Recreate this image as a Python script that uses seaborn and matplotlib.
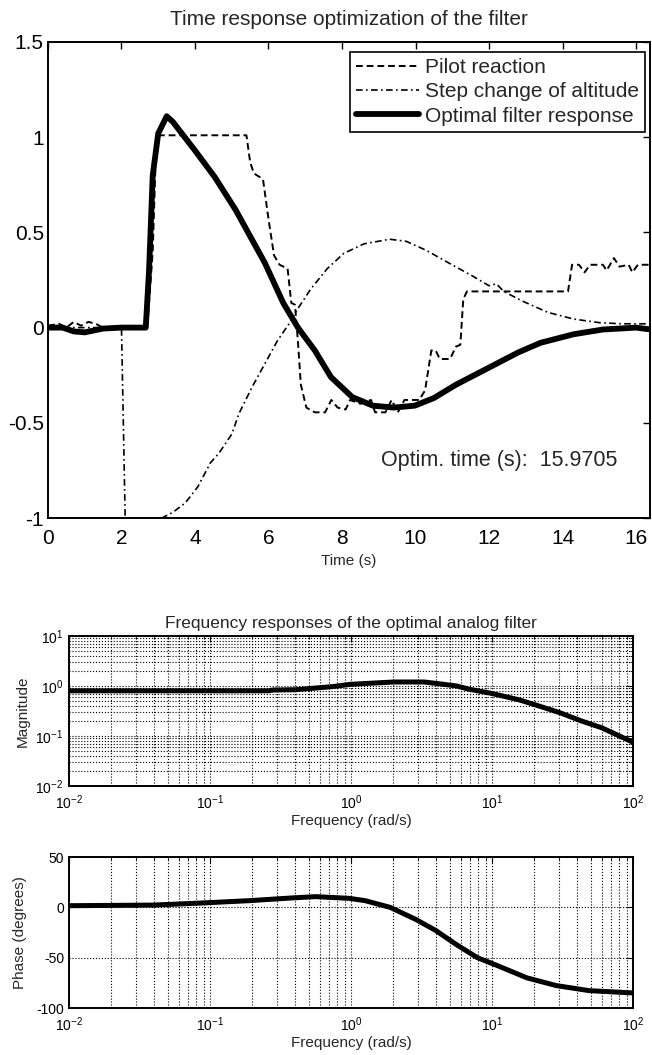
import matplotlib
matplotlib.use('Agg')
import numpy as np
import pandas as pd
import seaborn as sns
import matplotlib.pyplot as plt
from matplotlib.ticker import LogLocator, NullFormatter

sns.set_style('white')
plt.rcParams['font.family'] = ['Liberation Sans', 'DejaVu Sans']
plt.rcParams['mathtext.default'] = 'regular'
plt.rcParams['axes.unicode_minus'] = False

# ---- time response data ----
pilot_t = [0, 0.3, 0.5, 0.7, 0.9, 1.1, 1.3, 1.5, 2.0, 2.7, 2.85, 2.95, 5.4, 5.5, 5.6,
           5.85, 6.0, 6.15, 6.3, 6.52, 6.62, 6.72, 6.8, 6.88, 7.03, 7.26, 7.54, 7.71,
           7.88, 8.1, 8.22, 8.5, 8.79, 8.9, 9.18, 9.35, 9.52, 9.7, 10.1, 10.26, 10.43,
           10.55, 10.66, 10.94, 11.1, 11.22, 11.3, 11.4, 14.15, 14.26, 14.45, 14.6,
           14.75, 15.1, 15.2, 15.4, 15.55, 15.8, 15.9, 16.05, 16.4]
pilot_y = [0.01, 0.02, 0.0, 0.03, 0.01, 0.03, 0.02, 0.0, 0.0, 0.0, 0.4, 1.01, 1.01, 0.87, 0.81,
           0.78, 0.57, 0.38, 0.33, 0.31, 0.13, 0.12, -0.07, -0.3, -0.42, -0.445, -0.445, -0.38,
           -0.42, -0.43, -0.38, -0.40, -0.38, -0.445, -0.445, -0.38, -0.445, -0.38, -0.38, -0.33, -0.12,
           -0.12, -0.165, -0.165, -0.1, -0.09, 0.15, 0.19, 0.19, 0.33, 0.33, 0.29,
           0.33, 0.33, 0.30, 0.365, 0.32, 0.33, 0.29, 0.33, 0.33]

step_t = [0, 2.0, 2.05, 2.1, 3.1, 3.4, 3.74, 4.08, 4.42, 4.65, 5.0, 5.2, 5.56, 5.9, 6.24,
          6.58, 6.8, 7.14, 7.6, 8.05, 8.6, 9.3, 9.75, 10.3, 10.9, 11.56, 12.0, 12.2, 12.4,
          12.9, 13.6, 14.3, 15.0, 15.6, 16.4]
step_y = [0.0, 0.0, -0.5, -1.0, -1.0, -0.97, -0.92, -0.835, -0.71, -0.66, -0.56, -0.45, -0.31, -0.19, -0.07,
          0.026, 0.1, 0.2, 0.31, 0.39, 0.44, 0.464, 0.453, 0.405, 0.34, 0.27, 0.22, 0.23, 0.19,
          0.14, 0.08, 0.045, 0.026, 0.02, 0.02]

filt_t = [0, 0.4, 0.7, 1.0, 1.25, 1.5, 2.0, 2.66, 2.75, 2.85, 3.0, 3.23, 3.4, 4.0, 4.54,
          5.1, 5.9, 6.4, 6.8, 7.26, 7.7, 8.28, 8.84, 9.41, 9.98, 10.5, 11.1, 12.0, 12.8,
          13.4, 14.3, 15.1, 16.0, 16.4]
filt_y = [0.0, 0.0, -0.02, -0.025, -0.015, -0.005, 0.0, 0.0, 0.3, 0.8, 1.02, 1.11, 1.08, 0.93, 0.79,
          0.62, 0.34, 0.13, 0.0, -0.12, -0.26, -0.365, -0.41, -0.42, -0.41, -0.37, -0.30, -0.21, -0.13,
          -0.08, -0.035, -0.01, 0.0, -0.01]

# ---- frequency response data ----
mag_w = [0.01, 0.1, 0.26, 0.28, 0.4, 0.74, 1.0, 2.0, 3.3, 4.3, 5.6, 6.9, 9.7, 15.5, 22,
         30.5, 43, 60, 100]
mag = [0.8, 0.8, 0.8, 0.83, 0.84, 0.97, 1.08, 1.2, 1.2, 1.1, 1.0, 0.86, 0.72, 0.53, 0.39,
       0.29, 0.20, 0.146, 0.075]

ph_w = [0.01, 0.04, 0.085, 0.19, 0.37, 0.56, 0.97, 1.26, 1.9, 2.86, 4.0, 5.6, 7.9, 11,
        17.7, 28.6, 49, 100]
phase = [1.7, 2.3, 4.3, 6.7, 9.3, 10.7, 9.0, 6.7, 0.0, -11.7, -23, -37, -50, -58,
         -70, -77.7, -82.7, -85]

time_ticks = [0, 2, 4, 6, 8, 10, 12, 14, 16]
value_ticks = [-1, -0.5, 0, 0.5, 1, 1.5]
value_labels = ['-1', '-0.5', '0', '0.5', '1', '1.5']
phase_ticks = [-100, -50, 0, 50]

df_pilot = pd.DataFrame({'t': pilot_t, 'y': pilot_y})
df_step = pd.DataFrame({'t': step_t, 'y': step_y})
df_filt = pd.DataFrame({'t': filt_t, 'y': filt_y})
df_mag = pd.DataFrame({'w': mag_w, 'm': mag})
df_ph = pd.DataFrame({'w': ph_w, 'p': phase})

fig = plt.figure(figsize=(6.52, 10.55), dpi=100)

# ---------------- top: time response ----------------
ax = fig.add_axes([0.0736, 0.5090, 0.9233, 0.4512])
sns.lineplot(data=df_pilot, x='t', y='y', ax=ax, color='k', linewidth=1.4,
             estimator=None, sort=False, label='Pilot reaction')
ax.lines[-1].set_dashes((3.5, 2))
sns.lineplot(data=df_step, x='t', y='y', ax=ax, color='k', linewidth=1.2,
             estimator=None, sort=False, label='Step change of altitude')
ax.lines[-1].set_dashes((4, 2, 1, 2))
sns.lineplot(data=df_filt, x='t', y='y', ax=ax, color='k', linewidth=4.2,
             estimator=None, sort=False, label='Optimal filter response')

ax.set_xlim(0, 16.38)
ax.set_ylim(-1, 1.5)
ax.set_xticks(time_ticks)
ax.set_yticks(value_ticks)
ax.set_yticklabels(value_labels)
ax.tick_params(direction='in', top=True, right=True, length=5, width=1,
               labelsize=15, colors='k')
ax.tick_params(axis='x', pad=8)
ax.tick_params(axis='y', pad=3)
for s in ax.spines.values():
    s.set_color('k')
    s.set_linewidth(1.4)
ax.set_xlabel('Time (s)', fontsize=11, labelpad=4)
ax.set_ylabel('')
ax.set_title('Time response optimization of the filter', fontsize=15, pad=12)
ax.text(9.05, -0.70, 'Optim. time (s):  15.9705', fontsize=15.5, va='center', ha='left')
leg = ax.legend(loc='upper right', bbox_to_anchor=(0.992, 0.979), borderaxespad=0,
                fontsize=15, handlelength=3.0, handletextpad=0.3, labelspacing=0.25,
                borderpad=0.3, fancybox=False, framealpha=1)
leg.get_frame().set_edgecolor('k')
leg.get_frame().set_linewidth(1.2)

# ---------------- magnitude ----------------
axm = fig.add_axes([0.1058, 0.2550, 0.8650, 0.1422])
sns.lineplot(data=df_mag, x='w', y='m', ax=axm, color='k', linewidth=3.6,
             estimator=None, sort=False)
axm.set_xscale('log')
axm.set_yscale('log')
axm.set_xlim(0.01, 100)
axm.set_ylim(0.01, 10)

# ---------------- phase ----------------
axp = fig.add_axes([0.1058, 0.0445, 0.8650, 0.1431])
sns.lineplot(data=df_ph, x='w', y='p', ax=axp, color='k', linewidth=3.6,
             estimator=None, sort=False)
axp.set_xscale('log')
axp.set_xlim(0.01, 100)
axp.set_ylim(-100, 50)
axp.set_yticks(phase_ticks)

for a in (axm, axp):
    a.xaxis.set_major_locator(LogLocator(base=10, numticks=10))
    a.xaxis.set_minor_locator(LogLocator(base=10, subs=np.arange(2, 10), numticks=20))
    a.xaxis.set_minor_formatter(NullFormatter())
    a.tick_params(which='both', direction='in', top=True, right=True, colors='k',
                  labelsize=10)
    a.tick_params(which='major', length=4)
    a.tick_params(which='minor', length=2)
    a.tick_params(axis='x', which='both', pad=5)
    a.grid(True, which='both', linestyle=':', color='k', linewidth=0.8)
    for s in a.spines.values():
        s.set_color('k')
        s.set_linewidth(1.4)
    a.set_xlabel('Frequency (rad/s)', fontsize=11, labelpad=2)

axm.yaxis.set_major_locator(LogLocator(base=10, numticks=10))
axm.yaxis.set_minor_locator(LogLocator(base=10, subs=np.arange(2, 10), numticks=20))
axm.yaxis.set_minor_formatter(NullFormatter())
axm.tick_params(axis='y', which='both', pad=4)
axm.set_ylabel('Magnitude', fontsize=11)
axm.yaxis.set_label_coords(-0.07, 0.5)
axm.set_title('Frequency responses of the optimal analog filter', fontsize=12.5, pad=6)
axp.set_ylabel('Phase (degrees)', fontsize=11)
axp.yaxis.set_label_coords(-0.075, 0.5)

fig.savefig('out.png', dpi=100)
